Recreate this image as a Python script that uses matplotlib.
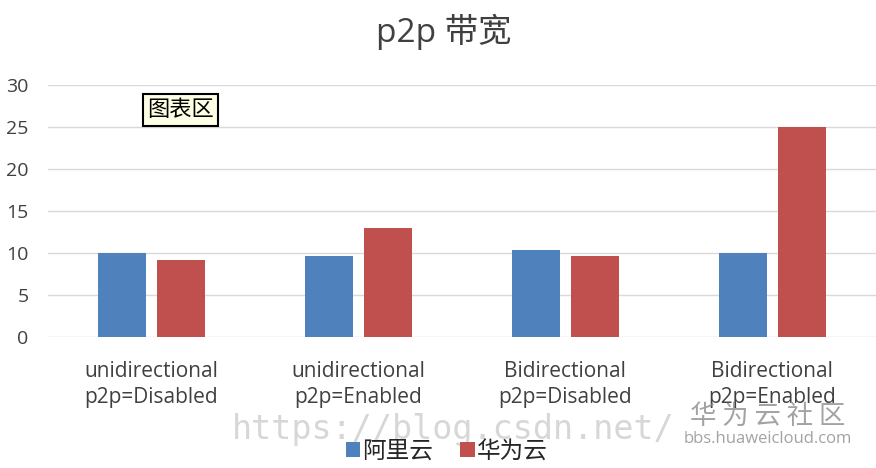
import matplotlib
matplotlib.use('Agg')
import matplotlib.pyplot as plt
import numpy as np

plt.rcParams['font.family'] = ['Open Sans', 'Noto Sans CJK SC', 'DejaVu Sans']

categories = ['unidirectional\np2p=Disabled', 'unidirectional\np2p=Enabled',
              'Bidirectional\np2p=Disabled', 'Bidirectional\np2p=Enabled']
aliyun = [10.0, 9.6, 10.4, 10.0]
huawei = [9.2, 13.0, 9.6, 25.0]
series_names = ['阿里云', '华为云']
yticks = [0, 5, 10, 15, 20, 25, 30]

blue = '#4F81BD'
red = '#C0504D'

fig = plt.figure(figsize=(8.76, 4.68), dpi=100)
ax = fig.add_axes([0.0548, 0.2799, 0.945, 0.5385])

x = np.arange(len(categories))
w = 0.232
off = 0.1425
b1 = ax.bar(x - off, aliyun, w, color=blue, label=series_names[0], zorder=3)
b2 = ax.bar(x + off, huawei, w, color=red, label=series_names[1], zorder=3)

ax.set_xlim(-0.5, 3.5)
ax.set_ylim(0, 30)
ax.set_yticks(yticks)
ax.yaxis.grid(True, color='#D9D9D9', linewidth=1, zorder=0)
ax.set_xticks(x)
ax.set_xticklabels(categories, fontsize=15, color='#404040', linespacing=1.35)
ax.tick_params(axis='y', labelsize=14, labelcolor='#404040', length=0, pad=14)
ax.tick_params(axis='x', length=0, pad=17)
for s in ['left', 'right', 'top', 'bottom']:
    ax.spines[s].set_visible(False)

fig.text(0.506, 0.932, 'p2p 带宽', ha='center', va='center', fontsize=24, color='#404040')

# tooltip box
fig.text(0.206, 0.765, '图表区', ha='center', va='center', fontsize=16,
         family=['Noto Sans CJK SC'], color='black',
         bbox=dict(boxstyle='square,pad=0.2', facecolor='#FFFFE6', edgecolor='black', linewidth=1.5))

# watermarks
fig.text(0.265, 0.082, 'https://blog.csdn.net/', ha='left', va='center', fontsize=24,
         family=['DejaVu Sans Mono'], color='#CDCDCD', alpha=0.8, zorder=0)
fig.text(0.876, 0.111, '华 为 云 社 区', ha='center', va='center', fontsize=19,
         family=['Noto Sans CJK SC'], color='#8C8C8C', alpha=0.8)
fig.text(0.876, 0.062, 'bbs.huaweicloud.com', ha='center', va='center', fontsize=12,
         color='#8C8C8C', alpha=0.8)

fig.legend(handles=[b1, b2], labels=series_names, loc='center', bbox_to_anchor=(0.51, 0.034),
           ncol=2, frameon=False, fontsize=17, handlelength=0.6, handleheight=0.6,
           handletextpad=0.1, columnspacing=1.15, labelcolor='#262626')

fig.savefig('out.png', dpi=100, facecolor='white')
